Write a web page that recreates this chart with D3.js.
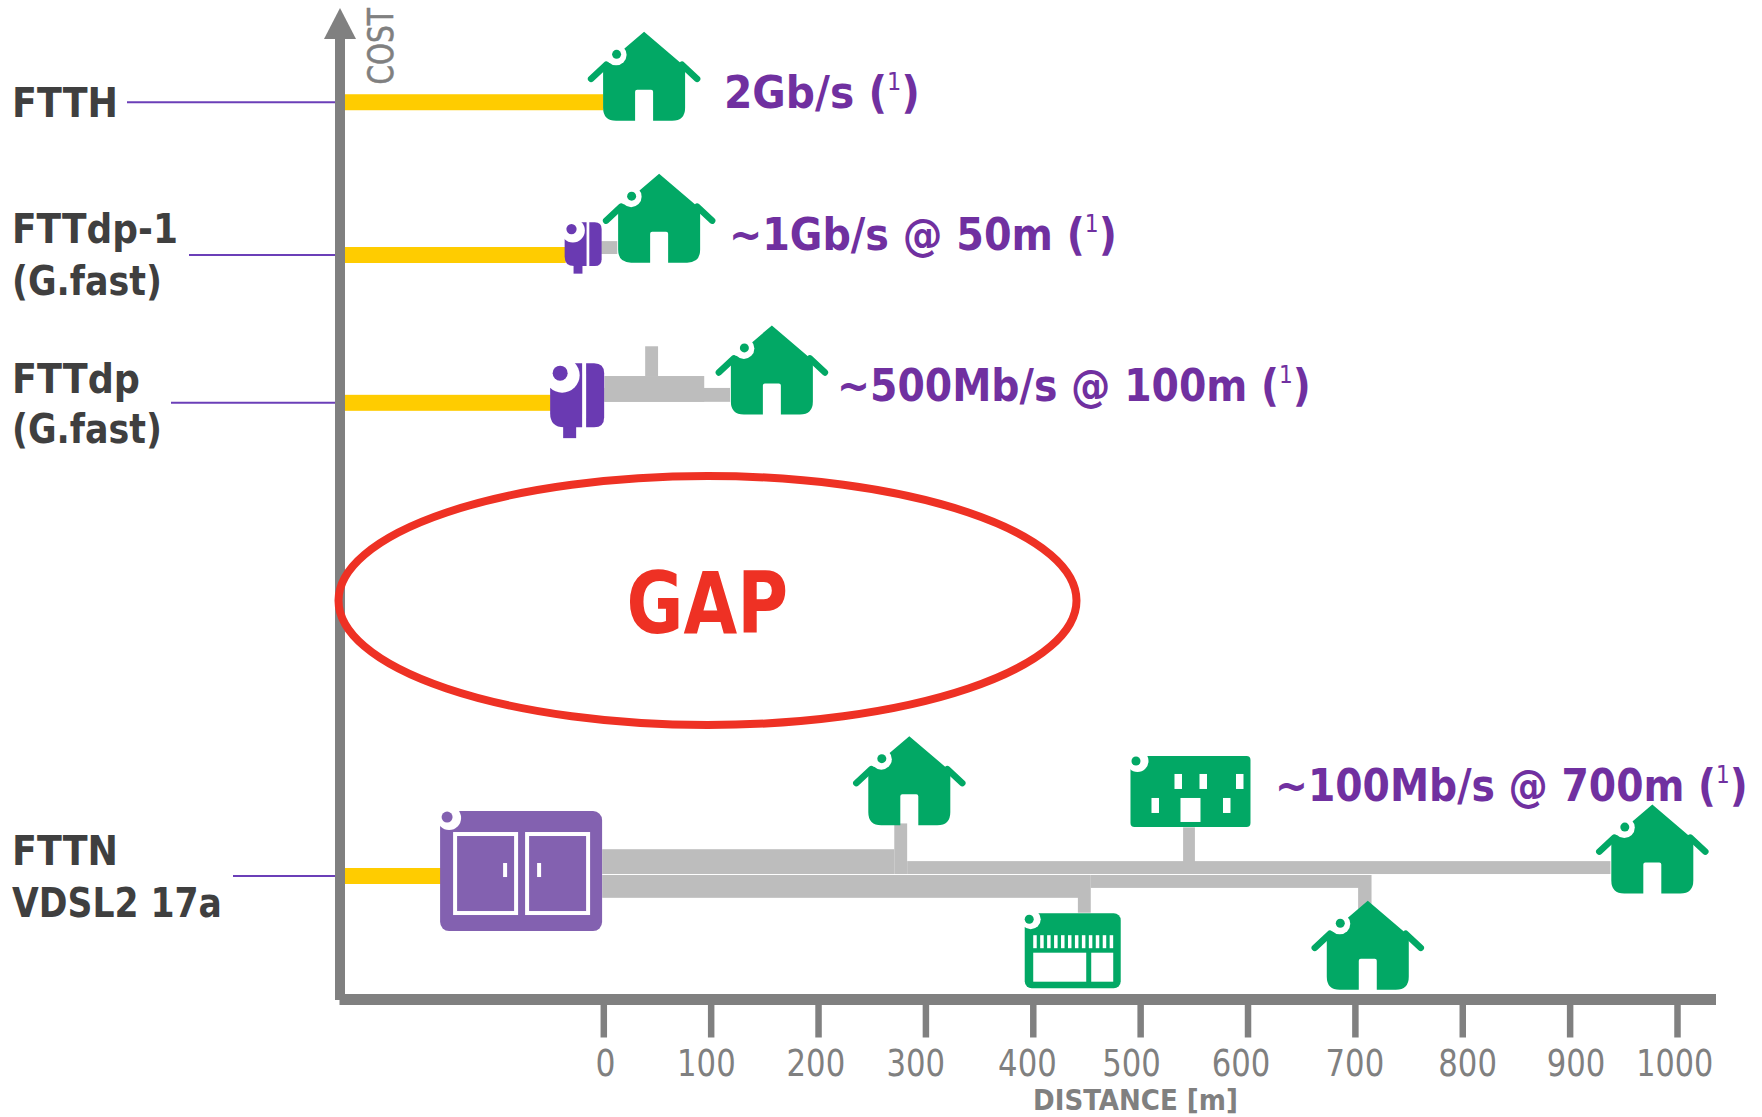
<!DOCTYPE html>
<html><head><meta charset="utf-8">
<style>html,body{margin:0;padding:0;background:#fff}svg{display:block}
text{font-family:"DejaVu Sans Condensed","DejaVu Sans",sans-serif}</style>
<script src="https://cdn.jsdelivr.net/npm/d3@7"></script></head><body>
<script>
// ---- data (distance in metres, cost in axis percent) ----
const distanceTicks = [0,100,200,300,400,500,600,700,800,900,1000];
const tickLabelAt   = [2,96,198,291,395,492,594,700,805,906,998];
const tiers     = ["FTTH","FTTdp-1","FTTdp","FTTN"];
const tierCost  = [90.5,75.1,60.2,12.5];
const fibreEnd  = [0,-35,-49,-151];
const houseDist = [38,52,157,285,712,977];
const houseCost = [97.6,83.3,68,26.6,10,19.7];
// copper runs: from m, to m, upper cost, lower cost
const copperFrom  = [-2,1,1,39,-1,271,283,-1,442,454,703,540];
const copperTo    = [13,118,94,51,271,283,938,443,454,704,715.5,551];
const copperUpper = [76.5,61.7,62.9,65.9,15.2,17.8,14,12.6,12.6,12.6,12.6,17.4];
const copperLower = [75.2,60.3,60.3,62.9,12.7,12.7,12.7,10.3,8.8,11.3,9.1,13.9];
const speedLabels = [["2Gb/s (","1",")"],["~1Gb/s @ 50m (","1",")"],["~500Mb/s @ 100m (","1",")"],["~100Mb/s @ 700m (","1",")"]];

const W=1762,H=1117;
const GREEN="#02a865",PURPLE="#6a3ab2",CAB="#8361b0",GOLD="#ffcc00",GREY="#808080",COPPER="#bdbdbd",TXT="#7030a0",DARK="#3f3f3f",RED="#ee3124";
const x=d3.scaleLinear().domain([0,1000]).range([603.3,1677]);
const y=d3.scaleLinear().domain([0,100]).range([1000,8]);
const svg=d3.select("body").append("svg").attr("width",W).attr("height",H).attr("viewBox",`0 0 ${W} ${H}`);

// copper
svg.append("g").selectAll("rect").data(copperFrom).join("rect")
 .attr("x",(d)=>x(d)).attr("width",(d,i)=>x(copperTo[i])-x(d))
 .attr("y",(d,i)=>y(copperUpper[i])).attr("height",(d,i)=>y(copperLower[i])-y(copperUpper[i]))
 .attr("fill",COPPER);

// fibre
svg.append("g").selectAll("rect").data(tiers).join("rect")
 .attr("x",345).attr("width",(d,i)=>x(fibreEnd[i])-345)
 .attr("y",(d,i)=>y(tierCost[i])-8).attr("height",16).attr("fill",GOLD);

// axes
const axis=svg.append("g").attr("transform",`translate(0,${y(0)+5})`)
 .call(d3.axisBottom(x).tickValues(distanceTicks).tickSize(32.5).tickSizeOuter(0).tickFormat(""));
axis.select(".domain").remove();
axis.selectAll("line").attr("stroke",GREY).attr("stroke-width",6.5);
svg.append("rect").attr("x",339.5).attr("y",994).attr("width",1376.5).attr("height",11).attr("fill",GREY);
svg.append("rect").attr("x",335).attr("y",38).attr("width",10).attr("height",962).attr("fill",GREY);
svg.append("path").attr("d","M340,8L356,39H324Z").attr("fill",GREY);

// helper: text fitted to a measured ink width
function fit(parts,x0,x1,base,size,fill,weight){
  const t=svg.append("text").attr("font-size",size).attr("fill",fill).attr("font-weight",weight||"normal");
  if(Array.isArray(parts)){
    t.append("tspan").text(parts[0]);
    t.append("tspan").attr("font-size",size*0.55).attr("font-weight","normal").attr("dy",-size*0.4).text(parts[1]);
    t.append("tspan").attr("dy",size*0.4).text(parts[2]);
  } else t.text(parts);
  const k=(x1-x0)/t.node().getComputedTextLength();
  t.attr("transform",`translate(${x0},${base}) scale(${k},1)`);
  return t;
}

// tick labels
distanceTicks.forEach((d,i)=>{
  const cx=x(tickLabelAt[i]), hw=(d===0?10:d===1000?38.5:29.3);
  fit(String(d),cx-hw,cx+hw,1076,38,GREY);
});
fit("DISTANCE [m]",1033,1238,1110,29,GREY,"bold");
const cost=svg.append("text").text("COST").attr("font-size",35).attr("fill",GREY).attr("stroke",GREY).attr("stroke-width",0.5);
const ck=76.5/cost.node().getComputedTextLength();
cost.attr("transform",`translate(393,84.5) rotate(-90) scale(${ck},1)`);

// tier labels and leaders
const leaderStart=[127,189,171,233];
svg.append("g").selectAll("line").data(tiers).join("line")
 .attr("x1",(d,i)=>leaderStart[i]).attr("x2",335)
 .attr("y1",(d,i)=>y(tierCost[i])).attr("y2",(d,i)=>y(tierCost[i]))
 .attr("stroke","#6b3fb8").attr("stroke-width",2);
[["FTTH",12,118,117],["FTTdp-1",12,178,243],["(G.fast)",12,162,295],["FTTdp",12,140,393],["(G.fast)",12,162,443],
 ["FTTN",12,118,865],["VDSL2 17a",12,222,917]].forEach(r=>fit(r[0],r[1],r[2],r[3],41,DARK,"bold"));

// speeds
[[724,920,108],[729,1117,250],[837,1311,401],[1275,1748,801]].forEach((r,i)=>fit(speedLabels[i],r[0],r[1],r[2],45,TXT,"bold"));

// badge: white ring with a dot
function badge(g,cx,cy,r,R,wx,wy,fill){
  g.append("circle").attr("cx",wx).attr("cy",wy).attr("r",R).attr("fill","#fff");
  g.append("circle").attr("cx",cx).attr("cy",cy).attr("r",r).attr("fill",fill);
}
// houses
const housePath="M0,0L-41,35V76Q-41,89,-28,89H-9V60Q-9,58,-7,58H7Q9,58,9,60V89H28Q41,89,41,76V35Z";
const eavePath="M-53,47L-38,33M53,47L38,33";
houseDist.forEach((d,i)=>{
  const g=svg.append("g").attr("transform",`translate(${x(d)},${y(houseCost[i])})`);
  g.append("path").attr("d",eavePath).attr("fill","none").attr("stroke",GREEN).attr("stroke-width",6.5).attr("stroke-linecap","round");
  g.append("path").attr("d",housePath).attr("fill",GREEN);
  badge(g,-27.5,22.5,4.5,10.5,-28,23,GREEN);
});

// drop points
function drop(px,py,s){
  const g=svg.append("g").attr("transform",`translate(${px},${py}) scale(${s})`);
  g.append("rect").attr("x",13).attr("y",50).attr("width",13).attr("height",25).attr("fill",PURPLE);
  g.append("path").attr("d","M8,0H32V64H14Q0,64,0,50V8Q0,0,8,0Z").attr("fill",PURPLE);
  g.append("path").attr("d","M36,0H44Q54,0,54,10V54Q54,64,44,64H36Z").attr("fill",PURPLE);
  badge(g,10,10,7.5,17.5,12,12,PURPLE);
}
drop(x(-36),y(78.4),0.685);
drop(x(-49.5),y(64.2),1);

// cabinet
const cab=svg.append("g").attr("transform",`translate(${x(-152)},${y(19.05)})`);
cab.append("rect").attr("width",162).attr("height",120).attr("rx",9).attr("fill",CAB);
[[15,61],[87,61]].forEach(r=>cab.append("rect").attr("x",r[0]).attr("y",23).attr("width",r[1]).attr("height",79).attr("fill","none").attr("stroke","#fff").attr("stroke-width",4));
[63,97].forEach(v=>cab.append("rect").attr("x",v).attr("y",52).attr("width",4).attr("height",14).attr("fill","#fff"));
badge(cab,7,6,5.5,12,9,7,CAB);

// office building
const off=svg.append("g").attr("transform",`translate(${x(491)},${y(24.6)})`);
off.append("rect").attr("width",120).attr("height",71).attr("rx",4).attr("fill",GREEN);
[[44,18],[69,18],[105.5,18],[21,42],[92.5,42]].forEach(r=>off.append("rect").attr("x",r[0]).attr("y",r[1]).attr("width",7.5).attr("height",15).attr("fill","#fff"));
off.append("rect").attr("x",50).attr("y",42).attr("width",20).attr("height",24).attr("fill","#fff");
badge(off,5.5,5,4.5,11,7,5,GREEN);

// shop
const shop=svg.append("g").attr("transform",`translate(${x(392.5)},${y(8.75)})`);
shop.append("rect").attr("width",96).attr("height",75).attr("rx",7).attr("fill",GREEN);
d3.range(12).forEach(i=>shop.append("rect").attr("x",8.5+i*6.95).attr("y",22).attr("width",3.5).attr("height",13).attr("fill","#fff"));
shop.append("rect").attr("x",8.5).attr("y",39.5).attr("width",53).attr("height",29).attr("fill","#fff");
shop.append("rect").attr("x",66.5).attr("y",39.5).attr("width",22).attr("height",29).attr("fill","#fff");
badge(shop,4.5,6,4.5,10,6,6,GREEN);

// gap
svg.append("ellipse").attr("cx",707.5).attr("cy",600.5).attr("rx",369).attr("ry",124.5).attr("fill","none").attr("stroke",RED).attr("stroke-width",8);
fit("GAP",626.5,788,633,86,RED,"bold");
</script></body></html>
